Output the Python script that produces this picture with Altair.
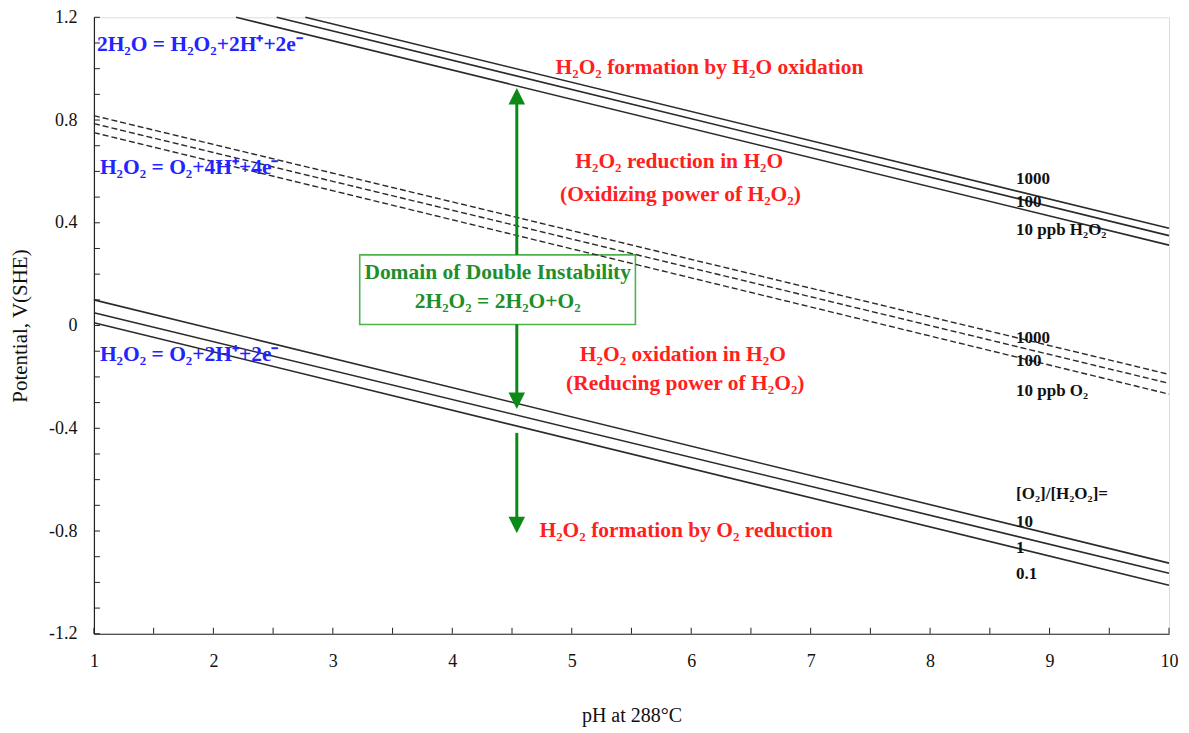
import altair as alt
import pandas as pd

# ---------------- data ----------------
x_major = [1, 2, 3, 4, 5, 6, 7, 8, 9, 10]
x_minor = [1, 1.5, 2, 2.5, 3, 3.5, 4, 4.5, 5, 5.5, 6, 6.5, 7, 7.5, 8, 8.5, 9, 9.5, 10]
y_major = [-1.2, -0.8, -0.4, 0, 0.4, 0.8, 1.2]
y_minor = [-1.2, -1.1, -1.0, -0.9, -0.8, -0.7, -0.6, -0.5, -0.4, -0.3, -0.2, -0.1, 0,
           0.1, 0.2, 0.3, 0.4, 0.5, 0.6, 0.7, 0.8, 0.9, 1.0, 1.1, 1.2]

# 2H2O = H2O2 + 2H+ + 2e-  (1000, 100, 10 ppb H2O2), solid
form_ph_start = [2.77, 2.53, 2.19]
form_v_start = [1.2, 1.2, 1.2]
form_ph_end = [10, 10, 10]
form_v_end = [0.379, 0.350, 0.313]

# H2O2 = O2 + 4H+ + 4e-  (1000, 100, 10 ppb O2), dashed
o2_ph_start = [1, 1, 1]
o2_v_start = [0.817, 0.786, 0.751]
o2_ph_end = [10, 10, 10]
o2_v_end = [-0.190, -0.225, -0.267]

# H2O2 = O2 + 2H+ + 2e-  ([O2]/[H2O2] = 10, 1, 0.1), solid
ox_ph_start = [1, 1, 1]
ox_v_start = [0.100, 0.050, 0.011]
ox_ph_end = [10, 10, 10]
ox_v_end = [-0.925, -0.964, -1.011]

# green arrows and box
arrow_ph = 4.54
shaft_v_from = [0.275, 0.004, -0.418]
shaft_v_to = [0.90, -0.30, -0.78]
head_up_v = [0.925]
head_down_v = [-0.325, -0.809]
box_ph = [3.225, 5.533]
box_v = [0.004, 0.275]

# annotations
blue_text = ["2H₂O = H₂O₂+2H⁺+2e⁻", "H₂O₂ = O₂+4H⁺+4e⁻", "H₂O₂ = O₂+2H⁺+2e⁻"]
blue_ph = [1.025, 1.05, 1.05]
blue_v = [1.092, 0.615, -0.116]

red_left_text = ["H₂O₂ formation by H₂O oxidation", "H₂O₂ formation by O₂ reduction"]
red_left_ph = [4.864, 4.73]
red_left_v = [1.003, -0.801]

red_center_text = ["H₂O₂ reduction in H₂O", "(Oxidizing power of H₂O₂)",
                   "H₂O₂ oxidation in H₂O", "(Reducing power of H₂O₂)"]
red_center_ph = [5.90, 5.91, 5.93, 5.95]
red_center_v = [0.635, 0.507, -0.116, -0.228]

green_text = ["Domain of Double Instability", "2H₂O₂ = 2H₂O+O₂"]
green_ph = [4.38, 4.38]
green_v = [0.205, 0.093]

black_text = ["1000", "100", "10 ppb H₂O₂", "1000", "100", "10 ppb O₂",
              "[O₂]/[H₂O₂]=", "10", "1", "0.1"]
black_ph = [8.72] * 10
black_v = [0.569, 0.480, 0.372, -0.050, -0.139, -0.256, -0.654, -0.763, -0.867, -0.968]

# ---------------- build tables ----------------
def line_rows(name, ps, vs, pe, ve):
    rows = []
    for i in range(len(ps)):
        rows.append({"line": f"{name}{i}", "pH": ps[i], "V": vs[i]})
        rows.append({"line": f"{name}{i}", "pH": pe[i], "V": ve[i]})
    return rows

solid_df = pd.DataFrame(line_rows("f", form_ph_start, form_v_start, form_ph_end, form_v_end)
                        + line_rows("x", ox_ph_start, ox_v_start, ox_ph_end, ox_v_end))
dash_df = pd.DataFrame(line_rows("o", o2_ph_start, o2_v_start, o2_ph_end, o2_v_end))
shaft_df = pd.DataFrame({"pH": [arrow_ph] * 3, "V": shaft_v_from, "V2": shaft_v_to})
up_df = pd.DataFrame({"pH": [arrow_ph] * len(head_up_v), "V": head_up_v})
down_df = pd.DataFrame({"pH": [arrow_ph] * len(head_down_v), "V": head_down_v})
box_df = pd.DataFrame({"pH": [box_ph[0]], "pH2": [box_ph[1]], "V": [box_v[0]], "V2": [box_v[1]]})
xt_df = pd.DataFrame({"pH": x_minor})
yt_df = pd.DataFrame({"V": y_minor})

FONT = "Liberation Serif"
W, H = 1076, 617

xs = alt.Scale(domain=[1, 10], nice=False, zero=False)
ys = alt.Scale(domain=[-1.2, 1.2], nice=False, zero=False)
xaxis = alt.Axis(values=x_major, ticks=False, grid=False, labelFont=FONT, labelFontSize=18,
                 labelColor="#111", labelPadding=19, labelFlush=False, labelOverlap=False,
                 domainColor="#222", domainWidth=1.2, title="pH at 288°C", titleFont=FONT,
                 titleFontSize=20, titleFontWeight="normal", titleColor="#111",
                 titleX=W / 2, titleY=82, titleAlign="center", titleBaseline="middle", zindex=1)
yaxis = alt.Axis(values=y_major, ticks=False, grid=False, labelFont=FONT, labelFontSize=18,
                 labelColor="#111", labelPadding=17, labelFlush=False, labelOverlap=False,
                 labelExpr="datum.value == 0 ? '0' : (datum.value < 0 ? '-' : '') + format(abs(datum.value), '.1f')",
                 domainColor="#222", domainWidth=1.2, title="Potential, V(SHE)", titleFont=FONT,
                 titleFontSize=21, titleFontWeight="normal", titleColor="#111",
                 titleX=-73, titleY=H / 2, titleAngle=270, titleAlign="center",
                 titleBaseline="middle", zindex=1)
X = alt.X("pH:Q", scale=xs, axis=xaxis)
Y = alt.Y("V:Q", scale=ys, axis=yaxis)

GREEN_TXT = "#1f8f2c"
GREEN_ARW = "#0c8a18"
GREEN_BOX = "#4db34d"
RED = "#ff1f1f"
BLUE = "#2323ff"
LINE = "#2a2a2a"

xticks = alt.Chart(xt_df).mark_rule(color="#222", strokeWidth=1).encode(
    x=X, y=alt.value(H), y2=alt.value(H - 6))
yticks = alt.Chart(yt_df).mark_rule(color="#222", strokeWidth=1).encode(
    y=Y, x=alt.value(0), x2=alt.value(6))

box = alt.Chart(box_df).mark_rect(fill="white", stroke=GREEN_BOX, strokeWidth=1.6).encode(
    x=X, x2="pH2:Q", y=Y, y2="V2:Q")

solid = alt.Chart(solid_df).mark_line(color=LINE, strokeWidth=1.6).encode(
    x=X, y=Y, detail="line:N")
dashed = alt.Chart(dash_df).mark_line(color=LINE, strokeWidth=1.4, strokeDash=[6, 3]).encode(
    x=X, y=Y, detail="line:N")

shafts = alt.Chart(shaft_df).mark_rule(color=GREEN_ARW, strokeWidth=3).encode(
    x=X, y=Y, y2="V2:Q")
up_heads = alt.Chart(up_df).mark_point(shape="M0,0L-0.5,1L0.5,1Z", filled=True, opacity=1,
                                        color=GREEN_ARW, size=1100, strokeWidth=0).encode(x=X, y=Y)
down_heads = alt.Chart(down_df).mark_point(shape="M0,0L-0.5,-1L0.5,-1Z", filled=True, opacity=1,
                                            color=GREEN_ARW, size=1100, strokeWidth=0).encode(x=X, y=Y)


def text_layer(texts, phs, vs, color, size, weight, align):
    df = pd.DataFrame({"t": texts, "pH": phs, "V": vs})
    return alt.Chart(df).mark_text(font=FONT, fontSize=size, fontWeight=weight, color=color,
                                   align=align, baseline="middle").encode(x=X, y=Y, text="t:N")


blue = text_layer(blue_text, blue_ph, blue_v, BLUE, 21.5, "bold", "left")
red_l = text_layer(red_left_text, red_left_ph, red_left_v, RED, 21.5, "bold", "left")
red_c = text_layer(red_center_text, red_center_ph, red_center_v, RED, 21.5, "bold", "center")
green = text_layer(green_text, green_ph, green_v, GREEN_TXT, 21.5, "bold", "center")
black = text_layer(black_text, black_ph, black_v, "#111", 17, "bold", "left")

chart = alt.layer(
    xticks, yticks, box, solid, dashed, shafts, up_heads, down_heads,
    blue, red_l, red_c, green, black
).properties(
    width=W, height=H,
    autosize=alt.AutoSizeParams(type="none"),
    padding={"left": 86, "top": 9, "right": 12, "bottom": 96},
).configure_view(
    stroke="#9a9a9a", strokeWidth=1.2
).configure(background="white")

chart.save("out.html", embed_options={"renderer": "svg", "actions": False})
